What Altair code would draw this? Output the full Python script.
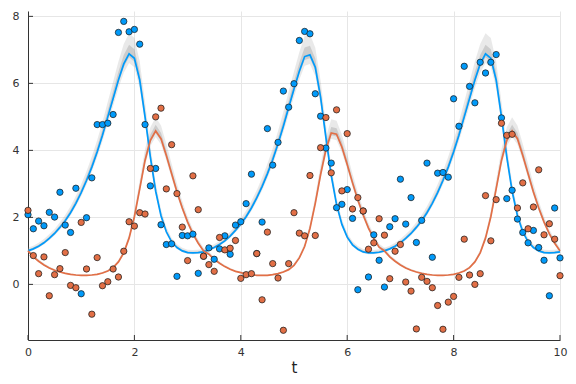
import altair as alt
import pandas as pd
import numpy as np

# time grid of the observations / saved solution
t_vals = [round(i * 0.1, 1) for i in range(101)]

prey_obs = [2.08, 1.66, 1.89, 1.75, 2.15, 2.01, 2.75, 1.77, 1.55, 2.87,
            -0.28, 1.99, 3.18, 4.77, 4.77, 4.81, 5.07, 7.52, 7.85, 7.54,
            7.61, 7.17, 4.77, 2.94, 3.46, 1.78, 1.19, 1.21, 0.24, 1.46,
            1.45, 1.50, 0.33, 0.84, 1.09, 0.75, 1.06, 1.45, 0.90, 1.77,
            1.87, 2.41, 3.29, 0.92, 1.86, 4.65, 3.56, 4.24, 5.77, 5.29,
            5.99, 7.28, 7.55, 7.48, 5.69, 5.02, 4.07, 3.62, 2.29, 2.39,
            2.83, 1.97, -0.16, 2.19, 0.22, 1.48, 0.72, -0.08, 1.72, 1.96,
            3.14, 1.80, 2.59, 1.25, 1.91, 3.62, 0.81, 3.32, 3.34, 3.20,
            5.54, 4.72, 6.51, 5.91, 5.42, 6.63, 6.31, 6.63, 6.86, 4.97,
            2.56, 2.81, 1.95, 1.55, 1.24, 1.61, 1.10, 0.72, -0.34, 2.28,
            0.79]

pred_obs = [2.21, 0.86, 0.32, 0.82, -0.34, 0.29, 0.47, 0.95, -0.03, -0.10,
            1.85, 0.46, -0.89, 0.80, -0.04, 0.08, 0.46, 0.22, 0.99, 1.87,
            1.74, 2.14, 2.10, 3.46, 5.00, 5.26, 2.85, 4.17, 2.71, 1.71,
            0.71, 3.24, 2.23, 0.84, 0.59, 0.39, 1.40, 1.03, 1.08, 1.31,
            0.18, 0.29, 0.32, 0.92, -0.46, 1.56, 0.62, 0.19, -1.37, 0.62,
            2.14, 1.53, 1.45, 3.25, 1.46, 4.08, 4.98, 3.33, 5.21, 2.79,
            4.50, 2.25, 2.59, 2.19, 1.05, 1.24, 1.96, 1.47, 0.17, 0.99,
            1.19, 0.07, -0.20, -1.33, 0.21, 0.09, -0.10, -0.63, -1.34, -0.53,
            -0.36, 0.21, 1.35, 0.28, 0.00, 0.32, 2.65, 1.30, 2.53, 4.81,
            4.45, 4.48, 2.28, 3.03, 1.66, 2.31, 3.42, 1.48, 1.81, 1.35,
            0.26]

prey_fit = [1.00, 1.06, 1.14, 1.24, 1.37, 1.52, 1.70, 1.90, 2.14, 2.42,
            2.74, 3.10, 3.50, 3.95, 4.45, 5.00, 5.55, 6.10, 6.58, 6.88,
            6.75, 6.10, 5.00, 3.80, 2.78, 2.05, 1.57, 1.27, 1.10, 1.00,
            0.95, 0.94, 0.95, 0.97,
            1.03, 1.10, 1.19, 1.30, 1.44, 1.61, 1.80, 2.02, 2.28, 2.58,
            2.92, 3.30, 3.72, 4.20, 4.72, 5.28, 5.83, 6.36, 6.80, 6.85,
            6.48, 5.58, 4.38, 3.25, 2.38, 1.79, 1.41, 1.18, 1.05, 0.97,
            0.94, 0.94, 0.96,
            1.00, 1.06, 1.14, 1.24, 1.37, 1.52, 1.70, 1.90, 2.14, 2.42,
            2.74, 3.10, 3.50, 3.95, 4.45, 5.00, 5.55, 6.10, 6.58, 6.88,
            6.75, 6.10, 5.00, 3.80, 2.78, 2.05, 1.57, 1.27, 1.10, 1.00,
            0.95, 0.94, 0.95, 0.97]

pred_fit = [1.00, 0.82, 0.69, 0.58, 0.49, 0.42, 0.37, 0.33, 0.30, 0.28,
            0.27, 0.27, 0.28, 0.30, 0.34, 0.40, 0.50, 0.67, 0.94, 1.38,
            2.02, 2.85, 3.70, 4.30, 4.58, 4.35, 3.85, 3.30, 2.76, 2.28,
            1.86, 1.51, 1.23, 1.00,
            0.90, 0.75, 0.63, 0.53, 0.45, 0.39, 0.35, 0.31, 0.29, 0.27,
            0.27, 0.27, 0.29, 0.32, 0.37, 0.44, 0.57, 0.79, 1.13, 1.67,
            2.42, 3.28, 4.02, 4.52, 4.48, 4.10, 3.58, 3.03, 2.52, 2.07,
            1.68, 1.37, 1.11,
            1.00, 0.82, 0.69, 0.58, 0.49, 0.42, 0.37, 0.33, 0.30, 0.28,
            0.27, 0.27, 0.28, 0.30, 0.34, 0.40, 0.50, 0.67, 0.94, 1.38,
            2.02, 2.85, 3.70, 4.30, 4.58, 4.35, 3.85, 3.30, 2.76, 2.28,
            1.86, 1.51, 1.23, 1.00]

# relative spread of the grey posterior ensemble around each fit
band_outer = (0.96, 1.09)
band_inner = (0.985, 1.04)

x_ticks = [0, 2, 4, 6, 8, 10]
y_ticks = [0, 2, 4, 6, 8]

BLUE = "#009AFA"
ORANGE = "#E26F46"
W, H = 532, 329

def fit_df(fit):
    f = np.array(fit)
    return pd.DataFrame({
        "t": t_vals, "y": f,
        "lo": f * band_outer[0], "hi": f * band_outer[1],
        "lo2": f * band_inner[0], "hi2": f * band_inner[1],
    })

prey_df = fit_df(prey_fit)
pred_df = fit_df(pred_fit)
obs_prey = pd.DataFrame({"t": t_vals, "y": prey_obs})
obs_pred = pd.DataFrame({"t": t_vals, "y": pred_obs})

xs = alt.Scale(domain=[0, 10], nice=False, zero=False)
ys = alt.Scale(domain=[-1.66, 8.16], nice=False, zero=False)

X = alt.X("t:Q", scale=xs, title="t",
          axis=alt.Axis(values=x_ticks, format="d", grid=True, tickSize=0,
                        labelFlush=False, labelPadding=6, titlePadding=3,
                        titleFontSize=15, titleFontWeight="normal"))
Y = alt.Y("y:Q", scale=ys, title=None,
          axis=alt.Axis(values=y_ticks, format="d", grid=True, tickSize=0,
                        labelFlush=False, labelPadding=9))

def bands(df):
    outer = alt.Chart(df).mark_area(color="#9a9a9a", opacity=0.22).encode(
        x=X, y=alt.Y("lo:Q", scale=ys, title=None), y2="hi:Q")
    inner = alt.Chart(df).mark_area(color="#8c8c8c", opacity=0.3).encode(
        x=X, y=alt.Y("lo2:Q", scale=ys, title=None), y2="hi2:Q")
    return outer + inner

def line(df, c):
    return alt.Chart(df).mark_line(color=c, strokeWidth=1.7).encode(x=X, y=Y)

def pts(df, c):
    return alt.Chart(df).mark_point(shape="circle", filled=True, fill=c,
                                    fillOpacity=1, opacity=1, stroke="#1e1e1e",
                                    strokeWidth=0.75, size=40).encode(x=X, y=Y)

xt = alt.Chart(pd.DataFrame({"t": x_ticks})).mark_rule(color="#333", strokeWidth=1).encode(
    x=X, y=alt.value(H), y2=alt.value(H - 5))
yt = alt.Chart(pd.DataFrame({"y": y_ticks})).mark_rule(color="#333", strokeWidth=1).encode(
    y=Y, x=alt.value(0), x2=alt.value(5))

chart = alt.layer(
    bands(prey_df), bands(pred_df),
    line(prey_df, BLUE), line(pred_df, ORANGE),
    xt, yt,
    pts(obs_prey, BLUE), pts(obs_pred, ORANGE),
).properties(
    width=W, height=H,
    autosize=alt.AutoSizeParams(type="none"),
    padding={"left": 20, "top": 3, "right": 8, "bottom": 35},
    background="white",
).configure_view(stroke=None).configure_axis(
    domainColor="#333", domainWidth=1,
    gridColor="#e6e6e6", gridWidth=1,
    labelFont="DejaVu Sans", labelFontSize=11, labelColor="#333",
    titleFont="DejaVu Sans", titleColor="#222",
)

chart.save("out.html", embed_options={"renderer": "svg", "actions": False})
